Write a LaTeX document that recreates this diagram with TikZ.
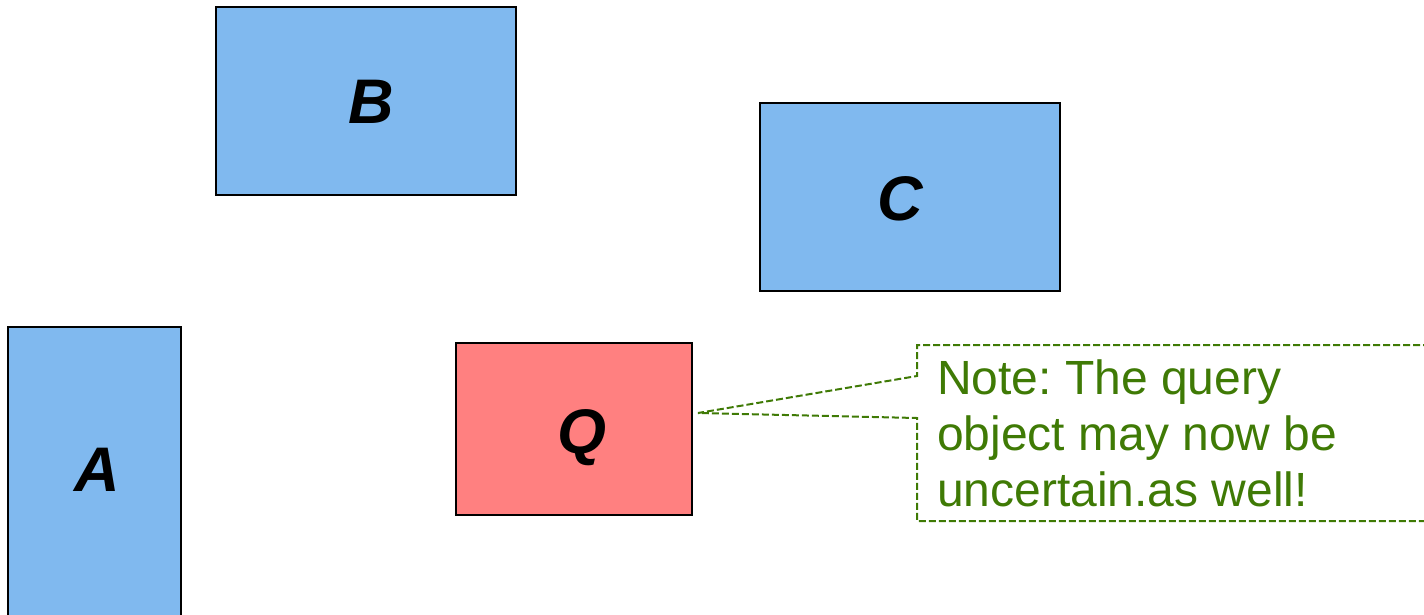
\documentclass[tikz,border=0pt]{standalone}
\usepackage{fontspec}
\setmainfont{Liberation Sans}
\begin{document}
\frenchspacing
\begin{tikzpicture}[x=1pt,y=-1pt,
  objbox/.style={draw=black, line width=1.8pt, fill=#1, inner sep=0pt},
  objlabel/.style={font=\fontsize{63}{63}\selectfont\bfseries\itshape},
  notecol/.style={draw=notegreen, line width=2pt, dash pattern=on 7pt off 3pt},
]
\definecolor{boxblue}{HTML}{80B9EF}
\definecolor{boxred}{HTML}{FF8080}
\definecolor{notegreen}{HTML}{3F7A05}
\useasboundingbox (0,0) rectangle (1424,614);
\clip (0,0) rectangle (1424,614);

% objects
\draw[objbox=boxblue] (8,327) rectangle (181,630);
\node[objlabel] (A) at (97,470) {A};
\draw[objbox=boxblue] (216,7) rectangle (516,195);
\node[objlabel] (B) at (371,102) {B};
\draw[objbox=boxblue] (760,103) rectangle (1060,291);
\node[objlabel] (C) at (900,199) {C};
\draw[objbox=boxred] (456,343) rectangle (692,515);
\node[objlabel] (Q) at (582,438) {Q};

% callout with pointer to the query object
\coordinate (tip) at (698,413);
\draw[notecol] (1440,345) -- (917,345) -- (917,376) -- (tip)
  -- (917,418) -- (917,521) -- (1440,521);
\node[anchor=north west, align=left, text=notegreen, inner sep=0pt,
  font=\fontsize{48}{56}\selectfont] (note) at (937,360)
  {Note: The query\\object may now be\\uncertain.as well!};
\end{tikzpicture}
\end{document}
